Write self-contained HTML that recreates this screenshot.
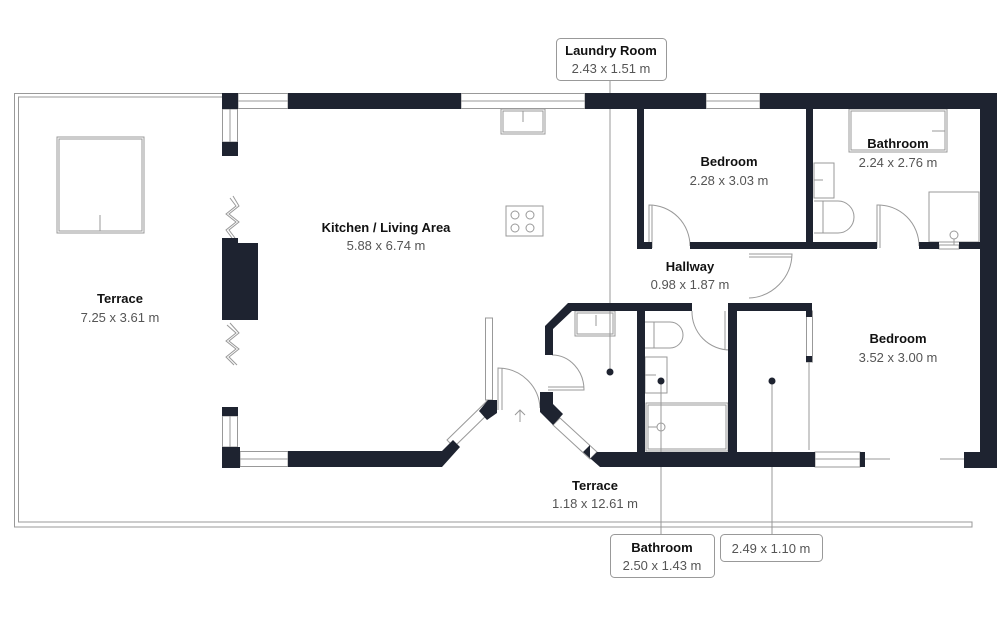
<!DOCTYPE html>
<html><head><meta charset="utf-8"><style>
html,body{margin:0;padding:0;background:#fff;width:1000px;height:624px;overflow:hidden}
svg{display:block}
text{font-family:"Liberation Sans",sans-serif}
.t{font-size:13px;font-weight:bold;fill:#111;text-anchor:middle}
.d{font-size:13px;fill:#555;text-anchor:middle}
</style></head><body>
<svg width="1000" height="624" viewBox="0 0 1000 624" xmlns="http://www.w3.org/2000/svg">
<g fill="none" stroke="#999" stroke-width="1">
<!-- outer terrace double line -->
<path d="M222 93.5 H14.5 V527 H972 V522 H18.5 V97 H222"/>
<!-- windows -->
<rect x="238" y="93.5" width="50" height="15"/><line x1="238" y1="101" x2="288" y2="101"/>
<rect x="461" y="93.5" width="124" height="15"/><line x1="461" y1="101" x2="585" y2="101"/>
<rect x="706" y="93.5" width="54" height="15"/><line x1="706" y1="101" x2="760" y2="101"/>
<rect x="222.5" y="109" width="15" height="33"/><line x1="230" y1="109" x2="230" y2="142"/>
<rect x="222.5" y="416" width="15" height="31"/><line x1="230" y1="416" x2="230" y2="447"/>
<rect x="240" y="451.5" width="48" height="15"/><line x1="240" y1="459" x2="288" y2="459"/>
<rect x="485.5" y="318" width="7" height="82"/>
<rect x="815" y="452" width="45" height="15"/><line x1="815" y1="459" x2="860" y2="459"/>
<line x1="865" y1="459" x2="890" y2="459"/><line x1="940" y1="459" x2="965" y2="459"/>
<rect x="806.5" y="311" width="6" height="51"/>
<line x1="809" y1="362" x2="809" y2="450"/>
<path d="M447 440 L488 400 L495 407 L454 447Z"/>
<path d="M560 418 L597 452 L590 459 L553 425Z"/>
<!-- zigzag doors -->
<path d="M230 198 L236 206 L226 214 L236 222 L226 230 L232 238 M233 196 L239 206 L229 214 L239 222 L229 230 L235 238"/>
<path d="M227 325 L236 333 L226 341 L236 349 L226 357 L234 365 M230 323 L239 333 L229 341 L239 349 L229 357 L237 365"/>
<!-- terrace table -->
<rect x="57" y="137" width="87" height="96"/><rect x="59" y="139" width="83" height="92"/><line x1="100" y1="215" x2="100" y2="231"/>
<!-- kitchen sink & hob -->
<rect x="501" y="109" width="44" height="25"/><rect x="503" y="111" width="40" height="21"/><line x1="523" y1="111" x2="523" y2="122"/>
<rect x="506" y="206" width="37" height="30"/>
<circle cx="515" cy="215" r="4"/><circle cx="530" cy="215" r="4"/><circle cx="515" cy="228" r="4"/><circle cx="530" cy="228" r="4"/>
<!-- upper bathroom -->
<rect x="849" y="109" width="98" height="43"/><rect x="851" y="111" width="94" height="39"/><line x1="932" y1="131" x2="945" y2="131"/>
<rect x="814" y="163" width="20" height="35"/><line x1="814" y1="180" x2="823" y2="180"/>
<path d="M814 201 H838 A12 12 0 0 1 838 233 H814 M823 201 V233"/>
<rect x="929" y="192" width="50" height="50"/><circle cx="954" cy="235" r="4"/><line x1="954" y1="239" x2="954" y2="248"/>
<rect x="939" y="245" width="20" height="4" fill="#fff"/>
<!-- doors -->
<path d="M649 248 V205 A41 41 0 0 1 690 246 M652 248 V205"/>
<path d="M877 248 V205 A41 41 0 0 1 919 246 M880 248 V205"/>
<path d="M749 254 H792 A45 45 0 0 1 749 298 M749 257 H792"/>
<path d="M692 311 A38 38 0 0 0 730 350 M725 350 V311 M729 350 V311"/>
<path d="M498 410 V368 A42 42 0 0 1 540 408 M502 410 V368"/>
<path d="M552 355 A32 35 0 0 1 584 390 H548 M548 387 H584"/>
<path d="M520 422 V410 M515 415 L520 410 L525 415"/>
<!-- laundry fixture -->
<rect x="575" y="311" width="40" height="25"/><rect x="577" y="313" width="36" height="21"/><line x1="596" y1="315" x2="596" y2="326"/>
<!-- small bathroom fixtures -->
<path d="M645 322 H670 A13 13 0 0 1 670 348 H645 M654 322 V348"/>
<rect x="645" y="357" width="22" height="36"/><line x1="645" y1="375" x2="656" y2="375"/>
<rect x="646" y="403" width="82" height="48"/><rect x="648" y="405" width="78" height="44"/><circle cx="661" cy="427" r="4"/><line x1="648" y1="427" x2="657" y2="427"/>
<!-- leader lines -->
<line x1="610" y1="80" x2="610" y2="372"/>
<line x1="661" y1="383" x2="661" y2="534"/>
<line x1="772" y1="383" x2="772" y2="534"/>
</g>
<g fill="#1e2330">
<!-- top walls -->
<rect x="222" y="93" width="16" height="16"/>
<rect x="288" y="93" width="173" height="16"/>
<rect x="585" y="93" width="121" height="16"/>
<rect x="760" y="93" width="237" height="16"/>
<rect x="980" y="93" width="17" height="375"/>
<rect x="964" y="452" width="33" height="16"/>
<!-- left column -->
<rect x="222" y="142" width="16" height="14"/>
<path d="M222 238 H238 V243 H258 V320 H222Z"/>
<rect x="222" y="407" width="16" height="9"/>
<rect x="222" y="447" width="18" height="21"/>
<!-- bottom wall -->
<path d="M288 451 H442 L453 440 L460 447 L442 467 H288Z"/>
<path d="M488 400 L497 400 L497 413 L487 420 L479 411Z"/>
<path d="M540 392 H553 V404 L563 414 L553 425 L540 412Z"/>
<path d="M590 459 L597 452 H815 V467 H600 L583 452 L590 445Z"/>
<rect x="860" y="452" width="5" height="15"/>
<!-- laundry / small rooms -->
<path d="M568 303 H692 V311 H572 L553 329 V355 H545 V326Z"/>
<rect x="637" y="303" width="8" height="150"/>
<path d="M728 303 H812 V311 H737 V452 H728Z"/>
<rect x="806" y="311" width="6" height="6"/><rect x="806" y="356" width="6" height="6"/>
<!-- upper rooms -->
<rect x="637" y="109" width="7" height="140"/>
<rect x="637" y="242" width="15" height="7"/>
<rect x="690" y="242" width="187" height="7"/>
<rect x="806" y="109" width="7" height="140"/>
<rect x="919" y="242" width="20" height="7"/><rect x="959" y="242" width="21" height="7"/>
<!-- dots -->
<circle cx="610" cy="372" r="3.5"/><circle cx="661" cy="381" r="3.5"/><circle cx="772" cy="381" r="3.5"/>
</g>
<!-- labels -->
<text class="t" x="386" y="232">Kitchen / Living Area</text><text class="d" x="386" y="250">5.88 x 6.74 m</text>
<text class="t" x="120" y="303">Terrace</text><text class="d" x="120" y="322">7.25 x 3.61 m</text>
<text class="t" x="729" y="166">Bedroom</text><text class="d" x="729" y="185">2.28 x 3.03 m</text>
<text class="t" x="898" y="148">Bathroom</text><text class="d" x="898" y="167">2.24 x 2.76 m</text>
<text class="t" x="690" y="271">Hallway</text><text class="d" x="690" y="289">0.98 x 1.87 m</text>
<text class="t" x="898" y="343">Bedroom</text><text class="d" x="898" y="362">3.52 x 3.00 m</text>
<text class="t" x="595" y="490">Terrace</text><text class="d" x="595" y="508">1.18 x 12.61 m</text>
<rect x="556.5" y="38.5" width="110" height="42" rx="4" fill="#fff" stroke="#999"/>
<text class="t" x="611" y="55">Laundry Room</text><text class="d" x="611" y="73">2.43 x 1.51 m</text>
<rect x="610.5" y="534.5" width="104" height="43" rx="4" fill="#fff" stroke="#999"/>
<text class="t" x="662" y="552">Bathroom</text><text class="d" x="662" y="570">2.50 x 1.43 m</text>
<rect x="720.5" y="534.5" width="102" height="27" rx="4" fill="#fff" stroke="#999"/>
<text class="d" x="771" y="553">2.49 x 1.10 m</text>
</svg>
</body></html>
